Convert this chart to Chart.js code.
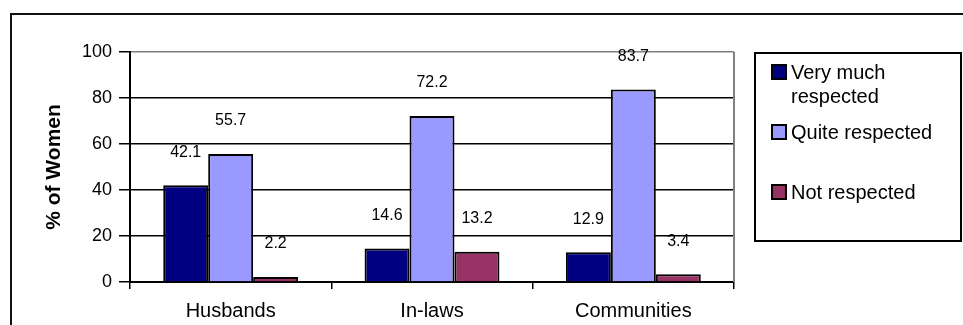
<!DOCTYPE html>
<html>
<head>
<meta charset="utf-8">
<title>% of Women</title>
<script src="https://cdn.jsdelivr.net/npm/chart.js@4.4.1/dist/chart.umd.min.js"></script>
<style>
  html, body { margin: 0; padding: 0; background: #fff; }
  canvas { display: block; }
</style>
</head>
<body>
<canvas id="myChart" width="963" height="325"></canvas>
<script>
// categories, the three answers and the y ticks
const groups = ['Husbands', 'In-laws', 'Communities'];
const seriesNames = ['Very much respected', 'Quite respected', 'Not respected'];
const veryMuch = [42.1, 14.6, 12.9];
const quite = [55.7, 72.2, 83.7];
const notResp = [2.2, 13.2, 3.4];
const yTicks = [0, 20, 40, 60, 80, 100];

const fills = ['#000080', '#9999FF', '#993366'];
const FONT = "'Liberation Sans', Arial, sans-serif";

Chart.defaults.font.family = FONT;
Chart.defaults.color = '#000';

// numbers above the bars
const valueLabels = {
  id: 'valueLabels',
  afterDatasetsDraw(chart) {
    const ctx = chart.ctx;
    ctx.save();
    ctx.font = '16px ' + FONT;
    ctx.fillStyle = '#000';
    ctx.textAlign = 'center';
    ctx.textBaseline = 'middle';
    chart.data.datasets.forEach((ds, i) => {
      chart.getDatasetMeta(i).data.forEach((bar, j) => {
        ctx.fillText(String(ds.data[j]), bar.x, bar.y - 33);
      });
    });
    ctx.restore();
  }
};

// gray right edge of the plot, outer frame and the boxed legend
const frame = {
  id: 'frame',
  afterDraw(chart) {
    const ctx = chart.ctx;
    const a = chart.chartArea;
    ctx.save();
    ctx.strokeStyle = '#808080';
    ctx.lineWidth = 2;
    ctx.beginPath();
    ctx.moveTo(a.right, a.top);
    ctx.lineTo(a.right, a.bottom);
    ctx.stroke();

    ctx.strokeStyle = '#111';
    ctx.lineWidth = 2;
    ctx.strokeRect(11, 14, 1000, 400);

    // legend
    ctx.strokeStyle = '#000';
    ctx.strokeRect(755, 53, 206, 188);
    ctx.font = '20px ' + FONT;
    ctx.textAlign = 'left';
    ctx.textBaseline = 'middle';
    chart.data.datasets.forEach((ds, i) => {
      const y0 = 73 + 60 * i;
      ctx.fillStyle = ds.backgroundColor;
      ctx.fillRect(772, y0 - 8, 14, 14);
      ctx.lineWidth = 2;
      ctx.strokeRect(772, y0 - 8, 14, 14);
      ctx.fillStyle = '#000';
      const words = ds.label.split(' ');
      const lines = [];
      let line = '';
      words.forEach(w => {
        const test = line ? line + ' ' + w : w;
        if (line && ctx.measureText(test).width > 160) {
          lines.push(line);
          line = w;
        } else {
          line = test;
        }
      });
      lines.push(line);
      lines.forEach((t, k) => ctx.fillText(t, 791, y0 + k * 24));
    });
    ctx.restore();
  }
};

const ctx = document.getElementById('myChart');
const myChart = new Chart(ctx, {
  type: 'bar',
  data: {
    labels: groups,
    datasets: [veryMuch, quite, notResp].map((vals, i) => ({
      label: seriesNames[i],
      data: vals,
      backgroundColor: fills[i],
      borderColor: '#000',
      borderWidth: 2,
      borderSkipped: 'bottom',
      barPercentage: 1,
      categoryPercentage: 0.67
    }))
  },
  options: {
    responsive: false,
    animation: false,
    layout: { padding: { top: 52, right: 229, left: 0, bottom: 0 } },
    plugins: {
      legend: { display: false },
      tooltip: { enabled: false }
    },
    scales: {
      x: {
        grid: {
          offset: true,
          drawOnChartArea: false,
          drawTicks: true,
          tickLength: 7,
          color: '#000',
          lineWidth: 1.5
        },
        border: { color: '#000', width: 2 },
        ticks: { font: { size: 20 }, padding: 10, color: '#000' },
        afterFit(s) { s.height = 43; }
      },
      y: {
        min: 0,
        max: 100,
        afterBuildTicks(s) { s.ticks = yTicks.map(v => ({ value: v })); },
        grid: {
          color: c => (c.tick && c.tick.value === 100 ? '#808080' : '#000'),
          tickColor: '#000',
          lineWidth: 1.5,
          tickLength: 11
        },
        border: { color: '#000', width: 2 },
        ticks: { font: { size: 18 }, padding: 7, color: '#000' },
        title: {
          display: true,
          text: '% of Women',
          font: { size: 21, weight: 'bold' },
          color: '#000',
          padding: { top: 42, bottom: 0 }
        },
        afterFit(s) { s.width = 130; }
      }
    }
  },
  plugins: [valueLabels, frame]
});
</script>
</body>
</html>
